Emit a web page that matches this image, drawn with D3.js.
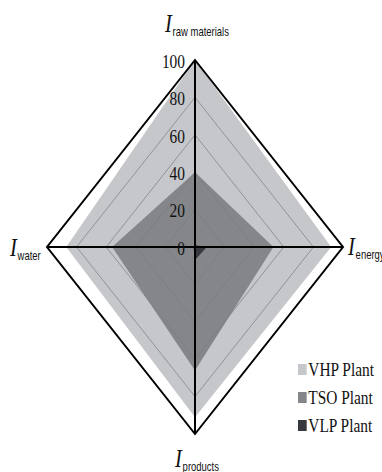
<!DOCTYPE html>
<html>
<head>
<meta charset="utf-8">
<script src="https://cdn.jsdelivr.net/npm/d3@7"></script>
<style>
  html, body { margin: 0; padding: 0; background: #fff; }
  svg { display: block; }
</style>
</head>
<body>
<div id="chart"></div>
<script>
// Indicator axes, clockwise from the top
const axes = ["raw materials", "energy", "products", "water"];
// Scores (0–100) for each plant along the four axes
const vhpValues = [100, 92, 91, 87];
const tsoValues = [40, 53, 66, 56];
const vlpValues = [1, 8, 7, 1];
const series = ["VHP Plant", "TSO Plant", "VLP Plant"];
const seriesValues = [vhpValues, tsoValues, vlpValues];
const seriesColors = ["#c6c7ca", "#848689", "#36393d"];
const ringTicks = [0, 20, 40, 60, 80, 100];

const W = 382, H = 472;
const cx = 195, cy = 247, rx = 148, ry = 187;
const squeeze = 0.79; // horizontal compression applied to text

const svg = d3.select("#chart").append("svg")
  .attr("width", W).attr("height", H);

const r = d3.scaleLinear().domain([0, 100]).range([0, 1]);
const angle = d3.scalePoint().domain(axes).range([0, 2 * Math.PI * 3 / 4]);

const px = (a, v) => cx + rx * r(v) * Math.sin(angle(a));
const py = (a, v) => cy - ry * r(v) * Math.cos(angle(a));

const poly = d3.line().x(d => d[0]).y(d => d[1]).curve(d3.curveLinearClosed);
const polyPoints = vals => axes.map((a, i) => [px(a, vals[i]), py(a, vals[i])]);

// Plant areas, largest first
svg.append("g").selectAll("path")
  .data(seriesValues)
  .join("path")
  .attr("d", d => poly(polyPoints(d)))
  .attr("fill", (d, i) => seriesColors[i])
  .attr("stroke", "none");

// Grid rings
svg.append("g").selectAll("path")
  .data(ringTicks.filter(t => t > 0))
  .join("path")
  .attr("d", t => poly(polyPoints(axes.map(() => t))))
  .attr("fill", "none")
  .attr("stroke", t => t === 100 ? "#000" : "#7a7b7e")
  .attr("stroke-width", t => t === 100 ? 2 : 0.7);

// Axis lines
const axisG = svg.append("g").attr("stroke", "#000").attr("stroke-width", 2);
axisG.append("line")
  .attr("x1", px("raw materials", 100)).attr("y1", py("raw materials", 100))
  .attr("x2", px("products", 100)).attr("y2", py("products", 100));
axisG.append("line")
  .attr("x1", px("water", 100)).attr("y1", py("water", 100))
  .attr("x2", px("energy", 100)).attr("y2", py("energy", 100));

// Ring labels along the vertical axis
svg.append("g").selectAll("text")
  .data(ringTicks)
  .join("text")
  .attr("transform", t => `translate(${cx - 10},${py("raw materials", t) + 1}) scale(${squeeze},1)`)
  .attr("text-anchor", "end")
  .attr("dy", "0.35em")
  .attr("font-family", "'Liberation Serif', 'Times New Roman', serif")
  .attr("font-size", 19.5)
  .attr("fill", "#111")
  .text(t => t);

// Axis titles: italic I with a sans-serif subscript
const titlePos = {
  "raw materials": [165, 32],
  "energy": [348, 255],
  "products": [175, 467],
  "water": [10, 256]
};
const titles = svg.append("g").selectAll("text")
  .data(axes)
  .join("text")
  .attr("transform", a => `translate(${titlePos[a][0]},${titlePos[a][1]}) scale(${squeeze},1)`)
  .attr("fill", "#111");
titles.append("tspan")
  .attr("font-family", "'Liberation Serif', 'Times New Roman', serif")
  .attr("font-style", "italic")
  .attr("font-size", 26)
  .text("I");
titles.append("tspan")
  .attr("dy", 4)
  .attr("dx", 1)
  .attr("font-family", "'Liberation Sans', Arial, sans-serif")
  .attr("font-size", 12)
  .text(a => a);

// Legend
const legend = svg.append("g").selectAll("g")
  .data(series)
  .join("g")
  .attr("transform", (d, i) => `translate(298,${376 + i * 28}) scale(${squeeze},1)`);
legend.append("rect")
  .attr("x", 0).attr("y", -12)
  .attr("width", 11).attr("height", 11)
  .attr("fill", (d, i) => seriesColors[i]);
legend.append("text")
  .attr("x", 13).attr("y", 0)
  .attr("font-family", "'Liberation Serif', 'Times New Roman', serif")
  .attr("font-size", 19.5)
  .attr("fill", "#111")
  .text(d => d);
</script>
</body>
</html>
